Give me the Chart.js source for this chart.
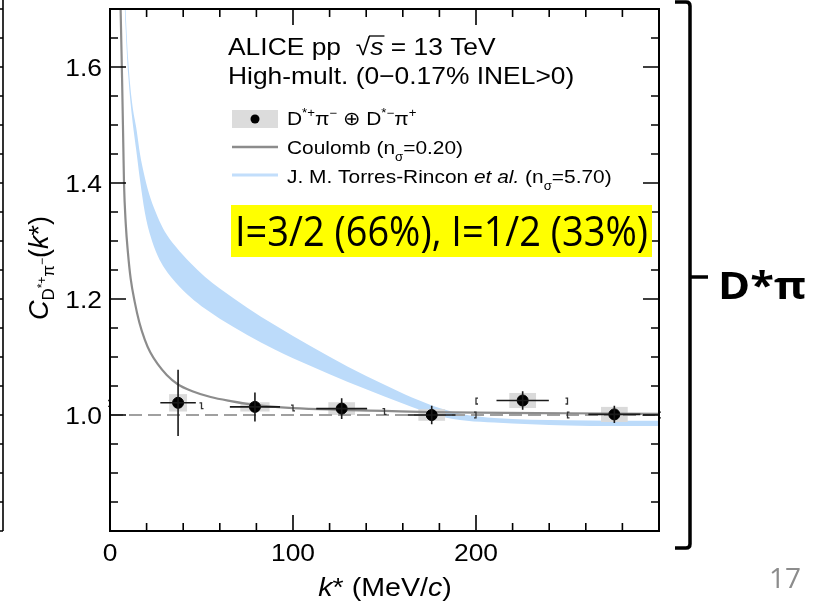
<!DOCTYPE html>
<html>
<head>
<meta charset="utf-8">
<script src="https://cdn.jsdelivr.net/npm/chart.js@4.4.1/dist/chart.umd.min.js"></script>
<style>
  body { margin: 0; background: #fff; }
  #wrap { width: 819px; height: 604px; }
</style>
</head>
<body>
<div id="wrap"><canvas id="corr" width="819" height="604"></canvas></div>
<script>
// measured correlation points (k* in MeV/c)
const kVals = [37.2, 79.2, 126.6, 175.8, 225.5, 275.6];
const cVals = [1.021, 1.014, 1.011, 1.000, 1.025, 1.001];
const statErr = [0.057, 0.025, 0.018, 0.016, 0.016, 0.015];
const kErr = [9.7, 13.7, 13.9, 13.0, 14.3, 14.2];
const systK = [4.9, 8.0, 7.3, 7.3, 7.3, 7.3];
const systC = [0.015, 0.008, 0.011, 0.010, 0.013, 0.013];

// small bracket markers at bin edges (dir: 0 = both, 1 = "[", -1 = "]")
const bracketK = [0, 50, 100, 150, 200, 200, 250, 250, 300];
const bracketC = [1.020, 1.016, 1.012, 1.006, 1.024, 1.000, 1.024, 1.000, 1.000];
const bracketDir = [-1, 0, 0, 0, 1, -1, -1, 1, 1];

// Coulomb-only curve
const coulK = [5.5, 5.8, 6.6, 7.3, 7.65, 8.6, 9.8, 11.3, 13.5, 16, 19, 22, 26, 31, 37, 45, 55, 66, 80, 100, 125, 150, 175, 200, 250, 300];
const coulC = [1.74, 1.70, 1.58, 1.46, 1.40, 1.33, 1.28, 1.235, 1.195, 1.16, 1.13, 1.108, 1.088, 1.069, 1.053, 1.041, 1.031, 1.024, 1.017, 1.012, 1.009, 1.007, 1.005, 1.004, 1.003, 1.002];

// Torres-Rincon et al. band
const bandK = [7.6, 8.5, 10, 12, 14.6, 16.4, 19, 22, 26, 30, 36, 44, 52, 60, 75, 90, 110, 130, 150, 165, 180, 195, 210, 230, 250, 275, 300];
const bandHi = [1.78, 1.70, 1.61, 1.54, 1.49, 1.45, 1.41, 1.375, 1.342, 1.316, 1.29, 1.262, 1.238, 1.218, 1.185, 1.155, 1.118, 1.083, 1.052, 1.030, 1.012, 1.000, 0.995, 0.992, 0.991, 0.990, 0.990];
const bandLo = [1.74, 1.67, 1.585, 1.515, 1.45, 1.405, 1.35, 1.31, 1.275, 1.252, 1.228, 1.203, 1.183, 1.166, 1.138, 1.113, 1.084, 1.057, 1.032, 1.014, 0.998, 0.990, 0.987, 0.984, 0.982, 0.981, 0.981];

// axes
const xRange = [0, 300];
const yRange = [0.8, 1.7];
const xTickVals = [0, 100, 200];
const yTickVals = [1.0, 1.2, 1.4, 1.6];

const FONT = '"Liberation Sans", Arial, sans-serif';
const SX = 1.1; // the slide image is stretched horizontally

const toXY = (xs, ys) => xs.map((x, i) => ({x: x, y: ys[i]}));

// draw a row of text pieces (font / vertical shift) with horizontal stretch
function drawRuns(ctx, x, y, runs, align, sx) {
    sx = sx || SX;
    ctx.save();
    ctx.translate(x, y);
    ctx.scale(sx, 1);
    let w = 0;
    runs.forEach(r => { ctx.font = r.f; w += ctx.measureText(r.t).width; });
    let cx = align === 'center' ? -w / 2 : (align === 'right' ? -w : 0);
    ctx.textBaseline = 'alphabetic';
    ctx.textAlign = 'left';
    runs.forEach(r => {
        ctx.font = r.f;
        const tw = ctx.measureText(r.t).width;
        ctx.fillText(r.t, cx, r.dy || 0);
        if (r.over) {
            ctx.lineWidth = 1.3;
            ctx.beginPath();
            ctx.moveTo(cx - 1, r.over);
            ctx.lineTo(cx + tw + 1, r.over);
            ctx.stroke();
        }
        cx += tw;
    });
    ctx.restore();
}

const decor = {
    id: 'decor',
    beforeDatasetsDraw(chart) {
        const ctx = chart.ctx, xs = chart.scales.x, ys = chart.scales.y;
        const ca = chart.chartArea;
        ctx.save();
        ctx.beginPath();
        ctx.rect(ca.left, ca.top, ca.right - ca.left, ca.bottom - ca.top);
        ctx.clip();
        // systematic boxes
        ctx.fillStyle = '#dadada';
        kVals.forEach((k, i) => {
            const x0 = xs.getPixelForValue(k - systK[i]), x1 = xs.getPixelForValue(k + systK[i]);
            const y0 = ys.getPixelForValue(cVals[i] + systC[i]), y1 = ys.getPixelForValue(cVals[i] - systC[i]);
            ctx.fillRect(x0, y0, x1 - x0, y1 - y0);
        });
        // dashed unity line
        ctx.strokeStyle = '#a0a0a0';
        ctx.lineWidth = 2;
        ctx.setLineDash([13, 6]);
        ctx.beginPath();
        ctx.moveTo(xs.getPixelForValue(xRange[0]), ys.getPixelForValue(1));
        ctx.lineTo(xs.getPixelForValue(xRange[1]), ys.getPixelForValue(1));
        ctx.stroke();
        ctx.setLineDash([]);
        ctx.restore();
    },
    afterDatasetsDraw(chart) {
        const ctx = chart.ctx, xs = chart.scales.x, ys = chart.scales.y;
        const ca = chart.chartArea;
        ctx.save();
        // error bars
        ctx.strokeStyle = '#1a1a1a';
        ctx.lineWidth = 1.6;
        kVals.forEach((k, i) => {
            const px = xs.getPixelForValue(k), py = ys.getPixelForValue(cVals[i]);
            ctx.beginPath();
            ctx.moveTo(px, ys.getPixelForValue(cVals[i] + statErr[i]));
            ctx.lineTo(px, ys.getPixelForValue(cVals[i] - statErr[i]));
            ctx.moveTo(xs.getPixelForValue(k - kErr[i]), py);
            ctx.lineTo(xs.getPixelForValue(k + kErr[i]), py);
            ctx.stroke();
        });
        // bracket markers
        ctx.strokeStyle = '#333';
        ctx.lineWidth = 1.3;
        bracketK.forEach((k, i) => {
            const px = xs.getPixelForValue(k);
            const yt = ys.getPixelForValue(bracketC[i] + 0.005), yb = ys.getPixelForValue(bracketC[i] - 0.005);
            const d = bracketDir[i];
            ctx.beginPath();
            if (d === 0) {
                ctx.moveTo(px - 2, yt); ctx.lineTo(px, yt); ctx.lineTo(px, yb); ctx.lineTo(px + 2, yb);
            } else {
                ctx.moveTo(px + 2 * d, yt); ctx.lineTo(px, yt); ctx.lineTo(px, yb); ctx.lineTo(px + 2 * d, yb);
            }
            ctx.stroke();
        });

        // frame and inward ticks on all sides
        ctx.strokeStyle = '#000';
        ctx.lineWidth = 2;
        ctx.strokeRect(ca.left, ca.top, ca.right - ca.left, ca.bottom - ca.top);
        ctx.lineWidth = 1.6;
        ctx.beginPath();
        for (let v = xRange[0]; v <= xRange[1]; v += 20) {
            const px = xs.getPixelForValue(v);
            const len = v % 100 === 0 ? 16 : 8;
            ctx.moveTo(px, ca.bottom); ctx.lineTo(px, ca.bottom - len);
            ctx.moveTo(px, ca.top); ctx.lineTo(px, ca.top + len);
        }
        for (let j = 0; j <= 18; j++) {
            const v = yRange[0] + j * 0.05;
            const py = ys.getPixelForValue(v);
            const len = j % 4 === 0 ? 16 : 8;
            ctx.moveTo(ca.left, py); ctx.lineTo(ca.left + len, py);
            ctx.moveTo(ca.right, py); ctx.lineTo(ca.right - len, py);
            // right frame of the previous panel at the slide edge
            ctx.moveTo(0, py); ctx.lineTo(3, py);
        }
        ctx.moveTo(3, 0); ctx.lineTo(3, ca.bottom);
        ctx.stroke();

        // tick labels
        ctx.fillStyle = '#000';
        xTickVals.forEach(v => {
            drawRuns(ctx, xs.getPixelForValue(v), ca.bottom + 30, [{t: String(v), f: '24px ' + FONT}], 'center');
        });
        yTickVals.forEach(v => {
            drawRuns(ctx, ca.left - 8, ys.getPixelForValue(v) + 8.5, [{t: v.toFixed(1), f: '24px ' + FONT}], 'right');
        });

        // x title
        drawRuns(ctx, 385, 596, [
            {t: 'k', f: 'italic 26px ' + FONT},
            {t: '* (MeV/', f: '26px ' + FONT},
            {t: 'c', f: 'italic 26px ' + FONT},
            {t: ')', f: '26px ' + FONT}
        ], 'center');

        // y title (rotated)
        ctx.save();
        ctx.translate(48, 268);
        ctx.rotate(-Math.PI / 2);
        drawRuns(ctx, 0, 0, [
            {t: 'C', f: 'italic 27px ' + FONT},
            {t: 'D', f: '17px ' + FONT, dy: 6},
            {t: '*+', f: '12px ' + FONT, dy: -2},
            {t: 'π', f: '17px ' + FONT, dy: 6},
            {t: '−', f: '12px ' + FONT, dy: -2},
            {t: '(', f: '27px ' + FONT},
            {t: 'k', f: 'italic 27px ' + FONT},
            {t: '*', f: '27px ' + FONT},
            {t: ')', f: '27px ' + FONT}
        ], 'center', 1.0);
        ctx.restore();

        // header text
        drawRuns(ctx, 228, 55, [
            {t: 'ALICE pp  √', f: '24px ' + FONT},
            {t: 's', f: 'italic 24px ' + FONT, over: -19},
            {t: ' = 13 TeV', f: '24px ' + FONT}
        ], 'left');
        drawRuns(ctx, 228, 84, [{t: 'High-mult. (0\u22120.17% INEL>0)', f: '24px ' + FONT}], 'left');

        // legend
        ctx.fillStyle = '#dcdcdc';
        ctx.fillRect(232, 110, 46, 18);
        ctx.fillStyle = '#000';
        ctx.beginPath(); ctx.arc(255, 119, 4.5, 0, 2 * Math.PI); ctx.fill();
        ctx.lineWidth = 2.5;
        ctx.strokeStyle = '#8c8c8c';
        ctx.beginPath(); ctx.moveTo(232, 147); ctx.lineTo(278, 147); ctx.stroke();
        ctx.strokeStyle = '#c2defb';
        ctx.lineWidth = 3;
        ctx.beginPath(); ctx.moveTo(232, 175); ctx.lineTo(278, 175); ctx.stroke();
        const lf = '19px ' + FONT, sf = '12px ' + FONT;
        drawRuns(ctx, 287, 125, [
            {t: 'D', f: lf}, {t: '*+', f: sf, dy: -8}, {t: 'π', f: lf}, {t: '−', f: sf, dy: -8},
            {t: ' ⊕ D', f: lf}, {t: '*−', f: sf, dy: -8}, {t: 'π', f: lf}, {t: '+', f: sf, dy: -8}
        ], 'left');
        drawRuns(ctx, 287, 154, [
            {t: 'Coulomb (n', f: lf}, {t: 'σ', f: sf, dy: 7}, {t: '=0.20)', f: lf}
        ], 'left');
        drawRuns(ctx, 287, 183, [
            {t: 'J. M. Torres-Rincon ', f: lf}, {t: 'et al.', f: 'italic 19px ' + FONT},
            {t: ' (n', f: lf}, {t: 'σ', f: sf, dy: 7}, {t: '=5.70)', f: lf}
        ], 'left');

        // yellow isospin note
        ctx.fillStyle = '#ffff00';
        ctx.fillRect(231, 205, 421, 52);
        ctx.fillStyle = '#000';
        ctx.font = '42px "Open Sans", sans-serif';
        const note = 'I=3/2 (66%), I=1/2 (33%)';
        drawRuns(ctx, 235, 246, [{t: note, f: '42px "Open Sans", sans-serif'}], 'left', 413 / ctx.measureText(note).width);

        // right brace and label
        ctx.strokeStyle = '#000';
        ctx.lineWidth = 3.5;
        ctx.beginPath();
        ctx.moveTo(675, 2); ctx.lineTo(686, 2); ctx.quadraticCurveTo(690, 2, 690, 6);
        ctx.lineTo(690, 544); ctx.quadraticCurveTo(690, 548, 686, 548); ctx.lineTo(675, 548);
        ctx.moveTo(690, 277); ctx.lineTo(708, 277);
        ctx.stroke();
        ctx.font = 'bold 38px "Open Sans", sans-serif';
        drawRuns(ctx, 718, 299, [{t: 'D*π', f: 'bold 38px "Open Sans", sans-serif'}], 'left', 88 / ctx.measureText('D*π').width);
        ctx.fillStyle = '#8c8c8c';
        drawRuns(ctx, 769, 588, [{t: '17', f: '28px "Open Sans", sans-serif'}], 'left', 1.0);
        ctx.restore();
    }
};

new Chart(document.getElementById('corr'), {
    type: 'scatter',
    data: {
        datasets: [{
            label: 'D*+π− ⊕ D*−π+',
            data: toXY(kVals, cVals),
            pointRadius: 5.5,
            pointBackgroundColor: '#000',
            pointBorderColor: '#000',
            showLine: false
        }, {
            label: 'Coulomb',
            data: toXY(coulK, coulC),
            showLine: true,
            borderColor: '#8c8c8c',
            borderWidth: 2.2,
            pointRadius: 0,
            cubicInterpolationMode: 'monotone'
        }, {
            label: 'Torres-Rincon upper',
            data: toXY(bandK, bandHi),
            showLine: true,
            borderWidth: 0,
            borderColor: 'rgba(0,0,0,0)',
            backgroundColor: '#bcdbfa',
            pointRadius: 0,
            cubicInterpolationMode: 'monotone',
            fill: '+1'
        }, {
            label: 'Torres-Rincon lower',
            data: toXY(bandK, bandLo),
            showLine: true,
            borderWidth: 0,
            borderColor: 'rgba(0,0,0,0)',
            pointRadius: 0,
            cubicInterpolationMode: 'monotone',
            fill: false
        }]
    },
    options: {
        responsive: false,
        animation: false,
        layout: { padding: { left: 0, top: 9, right: 160, bottom: 0 } },
        plugins: {
            legend: { display: false },
            tooltip: { enabled: false },
            filler: { drawTime: 'beforeDatasetsDraw' }
        },
        scales: {
            x: {
                type: 'linear',
                min: xRange[0],
                max: xRange[1],
                grid: { display: false, drawTicks: false },
                border: { display: false },
                ticks: { display: false },
                afterFit: s => { s.height = 73; }
            },
            y: {
                type: 'linear',
                min: yRange[0],
                max: yRange[1],
                grid: { display: false, drawTicks: false },
                border: { display: false },
                ticks: { display: false },
                afterFit: s => { s.width = 110; }
            }
        }
    },
    plugins: [decor]
});
</script>
</body>
</html>
